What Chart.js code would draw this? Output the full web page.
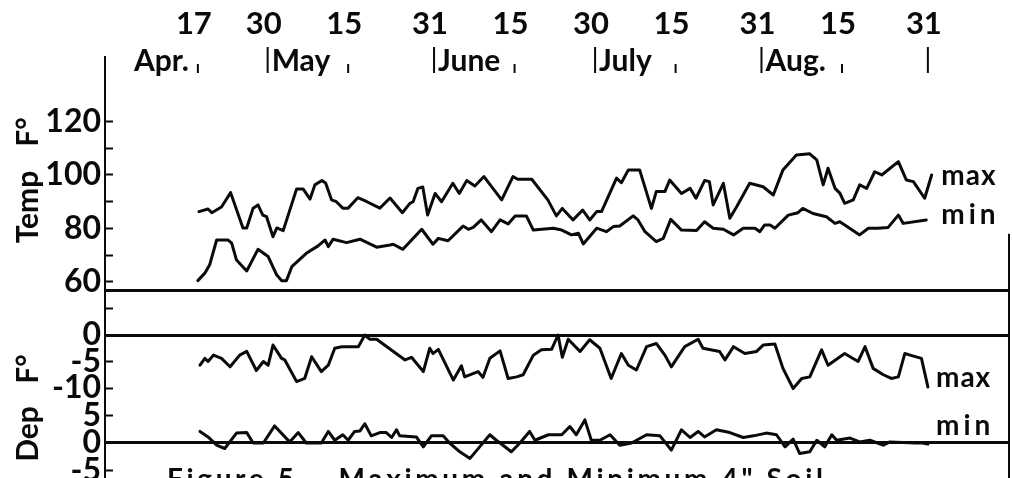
<!DOCTYPE html>
<html>
<head>
<meta charset="utf-8">
<script src="https://cdn.jsdelivr.net/npm/chart.js@4"></script>
<style>
html,body{margin:0;padding:0;background:#fff;overflow:hidden}
canvas{display:block}
</style>
</head>
<body>
<canvas id="c" width="1012" height="478"></canvas>
<script>
// ---- Data (days counted from April 17) ----
const dateDays   = [0, 13, 28, 44, 59, 74, 89, 105, 120, 136];
const dateLabels = ['17','30','15','31','15','30','15','31','15','31'];
const monthNames = ['Apr.', 'May', 'June', 'July', 'Aug.'];
const monthEndDays = [13, 44, 74, 105, 136];   // Apr 30, May 31, Jun 30, Jul 31, Aug 31
const midMonthDays = [0, 28, 59, 89, 120];     // Apr 17, May 15, Jun 15, Jul 15, Aug 15

const tempTicks   = [60, 70, 80, 90, 100, 110, 120];
const tempLabeled = [60, 80, 100, 120];
const depMaxTicks = [-10, -5, 0, 5];
const depMinTicks = [-5, 0, 5];

const maxTempDays = [0.2,1.9,2.6,4.4,6.1,8.4,9.1,10.3,11.2,12.1,12.8,14,14.7,15.9,18.4,19.6,20.9,21.8,23.1,23.8,24.9,25.8,27,28,29.8,31.5,33.9,35.8,38.1,39.5,40.1,41,41.9,42.8,44.2,45.4,47.5,48.7,50.1,51.6,53.3,56.6,58.7,59.6,62.2,65.2,66.8,67.9,69.9,71.7,73,74.3,75.2,78,78.9,80.2,82.3,84.5,85.4,87,87.9,90.1,91.7,92.8,94.4,95.3,96,97.9,99.1,100.4,102.8,105.3,107.2,109,111.5,114,115.3,116.5,117.4,118.7,119.6,120.5,122.1,123.3,124.6,126.1,127.4,130.5,132,133.3,135.4,136.7];
const maxTempValues = [86.3,87.3,85.9,88,93.4,80.2,80.2,87.6,88.8,85,84.4,76.9,80.2,79.2,94.8,94.8,91,96.3,97.9,97,90.7,90,87.6,87.6,91.5,90,87.6,91.4,85.9,89.4,90,95,95.5,85,93.1,90,96.9,93.1,97.9,95.9,99.4,90.7,99.4,98.4,98.4,90.7,84.7,87.5,83.2,86.9,83.2,86.3,86.3,98.8,97.1,101.9,101.9,87.5,93.8,93.8,98.1,93.1,95,91.3,97.9,97.5,88.8,96.9,83.8,88.2,96.9,95.6,92.5,101.9,107.5,107.9,105.6,96.3,102.5,95,93.2,89.4,90.7,96.3,95,101.2,100,105,98.1,97.5,91.3,100];

const minTempDays = [0,1.3,2.2,3.5,5.6,6.3,7.2,9.1,11.2,13.1,14.7,15.6,16.5,17.5,20.2,22.4,23.7,24.3,25.2,27.7,30.2,33.3,35.8,36.4,38.2,41.7,43.8,44.8,46.6,49.4,50.4,51.3,52.8,54.7,56.3,57.8,59.1,61.2,62.5,66.2,67.8,69.6,70.9,71.8,74.3,76.1,77.4,78.6,81.1,82,83.3,85.4,86.7,88.1,90.1,92.9,94.4,96,97.9,99.8,101.6,103.8,104.7,105.6,106.6,107.5,110,111.8,112.7,114.6,117.1,118.7,119.6,123.3,124.9,126.7,128.6,130.5,131.4,135.7];
const minTempValues = [60.5,63.3,66.4,75.7,75.7,74.5,68.2,64.1,72.2,69.5,62.6,60.5,60.5,65.7,70.7,73.5,75.7,73.2,76,74.7,76,73,73.8,74.1,72.2,79.7,74.1,76.3,75.4,80.9,79.7,80.4,83.2,78.8,83.2,81.7,84.7,84.7,79.4,80.1,79.4,77.6,78.2,74.2,80.1,78.8,80.7,80.9,84.7,83.2,78.8,75.1,76.3,83.4,79.4,79.2,82.5,80.1,79.7,77.6,80.1,80.1,78.8,81.3,81.3,80.1,85,85.9,87.5,85.6,84.4,81.9,82.5,77.6,80.1,80.1,80.4,85,81.9,83.2];

const depMaxDays = [0.4,1.3,1.9,2.9,4.4,6,7.8,9.1,10.9,12.2,13.1,14,15.6,16.2,18.4,19.9,21.2,23,24.3,25.5,26.8,29.9,31.1,32,33.3,38.6,39.8,42,43.2,43.8,44.8,47.6,49.1,49.7,52.2,53.1,54.4,56.3,57.8,59.4,60.6,62.5,64,65.9,67.1,67.9,69,71.2,73,74.9,77,78.9,80.2,81.7,83.6,85.4,87,88.2,90.7,93.2,94.1,97.2,98.2,99.8,101.9,104.1,105.3,107.5,109,110.9,112.5,114,116.2,117.4,120.5,121.5,123,124.3,125.8,127.7,129.2,130.5,131.7,132.7,134.8,136];
const depMaxValues = [-5.7,-4.4,-5,-3.8,-4.4,-6,-3.8,-3.1,-6.7,-5,-5.7,-1.9,-4.4,-4.7,-8.8,-8.2,-4.1,-6.9,-5.7,-2.5,-2.2,-2.2,0,-0.8,-0.8,-4.7,-4.2,-6.9,-2.5,-3.5,-2.7,-8.5,-5.8,-7.9,-6.9,-8,-4.4,-3,-8.2,-7.9,-7.5,-3.8,-2.8,-2.7,0,-4.2,-0.8,-3.1,-0.9,-2.5,-8.2,-3.5,-5.7,-6.6,-2.2,-1.6,-3.8,-6,-2.2,-0.8,-2.5,-3.1,-4.7,-2.2,-3.5,-3.1,-1.9,-1.7,-6.3,-10.1,-8.2,-7.9,-2.8,-5.7,-3.5,-4.1,-5,-2.2,-6.3,-7.5,-8.2,-7.9,-3.5,-3.8,-4.4,-9.8];

const depMinDays = [0.4,1.9,3.5,5,7.2,9.1,10.3,12.2,14.3,17.1,18.7,20.2,23,24.3,25.5,27,28,29.2,30.2,31.1,32.3,33.9,35.1,36.1,37,37.6,40.7,42,43.5,45.7,46.9,48.8,50.7,52.5,54.4,55.6,56.3,58.4,60,61.8,62.8,65.3,67.8,69.3,70.5,72.1,73.3,74.9,76.8,78.6,80.8,83.6,86.1,88.2,90.1,91.7,93.2,94.4,96.6,99.1,101.6,103.5,105.9,107.8,109.4,110.9,112.1,114,115.3,116.8,118.1,119,121.5,123.3,125.2,127.7,128.9,133.8,135,136];
const depMinValues = [2.1,1.1,-0.4,-1,1.8,1.9,0,0,3.1,0.2,1.9,0,0,2.1,0.5,1.5,0.5,2.1,2.2,3.5,1.3,1.9,1.9,1,2.4,1.3,1.1,-0.7,1.3,1.3,0,-1.6,-2.8,-0.7,1.5,0.5,0,-1.6,0,2.1,0.5,1.5,1.5,3,1.5,4.2,0.5,0.5,1.5,-0.4,0,1.5,1.3,-1.3,2.4,1,2.1,1.1,2.4,1.9,1,1.3,1.8,1.5,-0.7,0.7,-1.9,-1.6,0.5,-0.7,1.5,0.5,0.9,0.2,0.5,-0.4,0.2,0,0,-0.2];

// ---- Styling ----
const FONT = 'Lato, "Open Sans", sans-serif';
const INK = '#0a0a0a';

function pts(days, vals) { return days.map((d, i) => ({ x: d, y: vals[i] })); }

function yAxis(opts) {
  return {
    type: 'linear',
    position: 'left',
    stack: 'panels',
    stackWeight: opts.stackWeight,
    weight: opts.weight,
    min: opts.min,
    max: opts.max,
    afterBuildTicks: s => { s.ticks = opts.ticks(s).map(v => ({ value: v })); },
    afterFit: s => { s.width = 105; s.paddingTop = 0; s.paddingBottom = 0; s.paddingLeft = 0; s.paddingRight = 0; },
    ticks: {
      autoSkip: false,
      padding: 12,
      color: INK,
      font: { family: FONT, size: 32, weight: 'bold' },
      callback: opts.label
    },
    grid: {
      drawTicks: true,
      tickLength: -8,
      tickWidth: 2,
      tickColor: INK,
      lineWidth: 3,
      color: c => (c.tick && c.tick.value === opts.line) ? INK : 'rgba(0,0,0,0)'
    },
    border: { display: true, color: INK, width: 2 }
  };
}

const overlay = {
  id: 'overlay',
  beforeDraw(chart) {
    const ctx = chart.ctx;
    ctx.save();
    ctx.fillStyle = '#fff';
    ctx.fillRect(0, 0, chart.width, chart.height);
    ctx.restore();
  },
  afterDraw(chart) {
    const { ctx, chartArea, scales } = chart;
    const x = scales.x, yT = scales.yTemp, yMx = scales.yDepMax, yMn = scales.yDepMin;
    ctx.save();
    ctx.fillStyle = INK;
    ctx.strokeStyle = INK;

    // right frame line of lower part
    ctx.lineWidth = 2;
    ctx.beginPath();
    ctx.moveTo(chartArea.right - 1, yT.getPixelForValue(78));
    ctx.lineTo(chartArea.right - 1, chartArea.bottom);
    ctx.stroke();

    // month row
    const bar = (px, y0, y1) => { ctx.beginPath(); ctx.moveTo(px, y0); ctx.lineTo(px, y1); ctx.stroke(); };
    ctx.font = 'bold 30px ' + FONT;
    ctx.textBaseline = 'alphabetic';
    ctx.textAlign = 'right';
    ctx.fillText(monthNames[0], x.getPixelForValue(midMonthDays[0]) - 9, 71);
    ctx.textAlign = 'left';
    monthEndDays.forEach((d, i) => {
      const px = x.getPixelForValue(d);
      bar(px, 47, 73);
      if (monthNames[i + 1]) ctx.fillText(monthNames[i + 1], px + 4, 71);
    });
    midMonthDays.forEach(d => bar(x.getPixelForValue(d), 64, 73));

    // rotated axis titles
    const vtext = (t, cx, cy) => {
      ctx.save();
      ctx.translate(cx, cy);
      ctx.rotate(-Math.PI / 2);
      ctx.textAlign = 'center';
      ctx.textBaseline = 'alphabetic';
      ctx.font = 'bold 30px ' + FONT;
      ctx.fillText(t, 0, 0);
      ctx.restore();
    };
    vtext('Temp', 38, 207);
    vtext('F°', 38, 132);
    vtext('Dep', 38, 434);
    vtext('F°', 38, 369);

    // series labels
    ctx.font = 'bold 28px ' + FONT;
    ctx.textAlign = 'left';
    ctx.textBaseline = 'alphabetic';
    const lab = (t, day, px, spacing) => {
      ctx.letterSpacing = spacing;
      ctx.fillText(t, x.getPixelForValue(day), px + 7);
    };
    lab('max', 138.5, yT.getPixelForValue(98.9), '1px');
    lab('min', 138.5, yT.getPixelForValue(84.3), '4px');
    lab('max', 137.5, yMx.getPixelForValue(-8.5), '1px');
    lab('min', 137.5, yMn.getPixelForValue(2.7), '4px');

    // caption (cut off at the bottom edge, as in the source)
    const caption = 'Figure 5 \u2013 Maximum and Minimum 4" Soil';
    ctx.font = 'bold 28px ' + FONT;
    ctx.letterSpacing = '0px';
    const w = ctx.measureText(caption).width;
    const sp = Math.max(0, (656 - w) / (caption.length - 1));
    ctx.letterSpacing = sp.toFixed(2) + 'px';
    ctx.fillText(caption, 167, 489);
    ctx.restore();
  }
};

const lineStyle = { borderColor: INK, borderWidth: 3, pointRadius: 0, tension: 0, fill: false, borderJoinStyle: 'round', borderCapStyle: 'round' };

new Chart(document.getElementById('c'), {
  type: 'line',
  data: {
    datasets: [
      { label: 'Temp max', data: pts(maxTempDays, maxTempValues), yAxisID: 'yTemp', ...lineStyle },
      { label: 'Temp min', data: pts(minTempDays, minTempValues), yAxisID: 'yTemp', ...lineStyle },
      { label: 'Dep max', data: pts(depMaxDays, depMaxValues), yAxisID: 'yDepMax', ...lineStyle },
      { label: 'Dep min', data: pts(depMinDays, depMinValues), yAxisID: 'yDepMin', ...lineStyle }
    ]
  },
  options: {
    responsive: false,
    animation: false,
    devicePixelRatio: 1,
    layout: { padding: { left: 0, top: 0, right: 2, bottom: 0 } },
    plugins: { legend: { display: false }, tooltip: { enabled: false }, title: { display: false } },
    scales: {
      x: {
        type: 'linear',
        position: 'top',
        min: -17.3,
        max: 151.3,
        afterBuildTicks: s => { s.ticks = dateDays.map(v => ({ value: v })); },
        afterFit: s => { s.height = 57; s.paddingLeft = 0; s.paddingRight = 0; },
        ticks: {
          autoSkip: false,
          maxRotation: 0,
          minRotation: 0,
          padding: 14,
          labelOffset: -4,
          color: INK,
          font: { family: FONT, size: 31, weight: 'bold' },
          callback: (v, i) => dateLabels[i]
        },
        grid: { display: false, drawTicks: false },
        border: { display: false }
      },
      yTemp: yAxis({
        stackWeight: 233, weight: 3, min: 57.0, max: 144.1, line: 57.0,
        ticks: s => [s.min, ...tempTicks],
        label: v => tempLabeled.includes(v) ? String(v) : ''
      }),
      yDepMax: yAxis({
        stackWeight: 112, weight: 2, min: -12.64, max: 8.49, line: 0,
        ticks: () => depMaxTicks,
        label: v => v === 5 ? '' : String(v)
      }),
      yDepMin: yAxis({
        stackWeight: 76, weight: 1, min: -6.36, max: 7.45, line: 0,
        ticks: () => depMinTicks,
        label: v => String(v)
      })
    }
  },
  plugins: [overlay]
});
</script>
</body>
</html>
